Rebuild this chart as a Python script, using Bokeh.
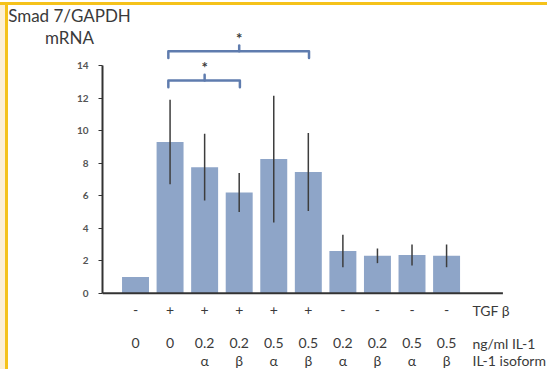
from bokeh.plotting import figure
from bokeh.models import ColumnDataSource, FixedTicker, Range1d, Label
from bokeh.core.properties import value
from bokeh.embed import file_html
from bokeh.resources import INLINE

# ---- data ----
idx = [0, 1, 2, 3, 4, 5, 6, 7, 8, 9]
means = [1.0, 9.3, 7.75, 6.2, 8.25, 7.45, 2.6, 2.3, 2.35, 2.3]
errs = [0.0, 2.6, 2.05, 1.2, 3.9, 2.4, 1.0, 0.45, 0.65, 0.7]
tgf = ["-", "+", "+", "+", "+", "+", "-", "-", "-", "-"]
dose = ["0", "0", "0.2", "0.2", "0.5", "0.5", "0.2", "0.2", "0.5", "0.5"]
iso = ["", "", "α", "β", "α", "β", "α", "β", "α", "β"]
row_names = ["TGF β", "ng/ml IL-1", "IL-1 isoform"]
y_ticks = [0, 2, 4, 6, 8, 10, 12, 14]
title_lines = ["Smad 7/GAPDH", "mRNA"]
# significance brackets: (from bar, to bar)
pairs = [(1, 5), (1, 3)]
bracket_levels = [14.88, 13.08]

FONT = "Lato"
BAR = "#8EA5C8"
DARK = "#3a3a3a"
BRK = "#5F7CAE"

p = figure(width=547, height=369, output_backend="svg", toolbar_location=None,
           x_axis_location=None, y_axis_location="left",
           x_range=Range1d(-0.955, 11.92), y_range=Range1d(-4.69, 16.28),
           min_border_left=102, min_border_right=0, min_border_top=28, min_border_bottom=0)
p.outline_line_color = None
p.background_fill_color = None
p.border_fill_color = None
p.xgrid.visible = False
p.ygrid.visible = False
p.styles = {"background-color": "#ffffff",
            "box-shadow": "inset 0 2px 0 0 #ffffff, inset 0 5px 0 0 #F5C21B, "
                          "inset 5px 0 0 0 #FCEFD3, inset 8px 0 0 0 #F5C21B"}

src = ColumnDataSource(dict(x=idx, top=means,
                            lo=[m - e for m, e in zip(means, errs)],
                            hi=[m + e for m, e in zip(means, errs)],
                            tgf=tgf, dose=dose, iso=iso))

p.vbar(x="x", top="top", bottom=0, width=0.78, fill_color=BAR, line_color=None, source=src)
p.segment(x0="x", x1="x", y0="lo", y1="hi", line_color="#3d3d3d", line_width=1.5, source=src)

# x axis line
p.segment(x0=[-0.955], x1=[10.63], y0=[0], y1=[0], line_color="#333333", line_width=2)

ax = p.yaxis[0]
ax.ticker = FixedTicker(ticks=y_ticks)
ax.bounds = (0, 14)
ax.axis_line_color = "#333333"
ax.axis_line_width = 2
ax.major_tick_out = 4
ax.major_tick_in = 0
ax.minor_tick_out = 0
ax.minor_tick_in = 0
ax.major_tick_line_color = "#333333"
ax.major_label_standoff = 10
ax.major_label_text_font = FONT
ax.major_label_text_font_size = "10px"
ax.major_label_text_font_style = "bold"
ax.major_label_text_color = "#555555"

# title lines (placed in side panels so they are not clipped by the frame)
p.add_layout(Label(x=-1.91, y=17.08, text=title_lines[0], text_align="center", text_baseline="middle",
                   text_font=FONT, text_font_size="17px", text_color=DARK), "above")
p.add_layout(Label(x=-1.91, y=15.73, text=title_lines[1], text_align="center", text_baseline="middle",
                   text_font=FONT, text_font_size="17px", text_color=DARK), "left")

# brackets
for (a, b), lev in zip(pairs, bracket_levels):
    m = (a + b) / 2
    xs = [[a - 0.05, a - 0.05, b + 0.02, b + 0.02], [m, m]]
    ys = [[lev - 0.42, lev, lev, lev - 0.42], [lev, lev + 0.35]]
    p.multi_line(xs=xs, ys=ys, line_color=BRK, line_width=2.5, line_cap="round", line_join="round")
    p.text(x=[m], y=[lev + 0.82], text=["*"], text_align="center", text_baseline="middle",
           text_font=value(FONT), text_font_size="15px", text_font_style="bold", text_color=DARK)

# rows under bars
row_y = [-1.06, -3.08, -4.14]
for col, yy in zip(["tgf", "dose", "iso"], row_y):
    p.text(x="x", y=yy, text=col, source=src, text_align="center", text_baseline="middle",
           text_font=value(FONT), text_font_size="14px", text_color=DARK)
p.text(x=[9.75] * 3, y=row_y, text=row_names, text_align="left", text_baseline="middle",
       text_font=value(FONT), text_font_size="14px", text_color=DARK)

open("out.html", "w").write(file_html(p, INLINE))
